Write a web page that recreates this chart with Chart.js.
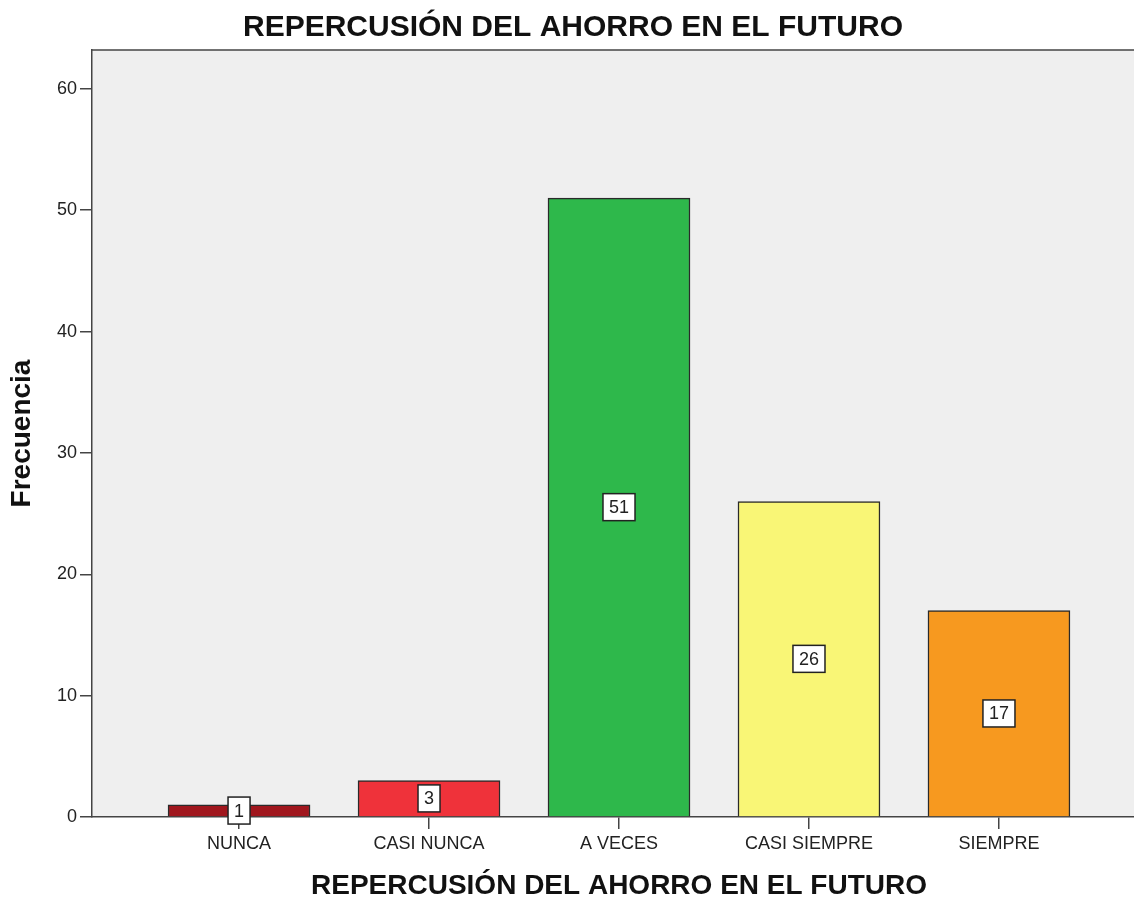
<!DOCTYPE html>
<html>
<head>
<meta charset="utf-8">
<script src="https://cdn.jsdelivr.net/npm/chart.js@4.4.6/dist/chart.umd.min.js"></script>
<style>
  html, body { margin: 0; padding: 0; background: #fff; overflow: hidden; }
  #wrap { position: absolute; left: 0; top: 0; width: 1148px; height: 900px; }
</style>
</head>
<body>
<div id="wrap"><canvas id="chart"></canvas></div>
<script>
// Frequency chart (SPSS-style bar chart) rebuilt with Chart.js.
const CATEGORIES = ['NUNCA', 'CASI NUNCA', 'A VECES', 'CASI SIEMPRE', 'SIEMPRE'];
const FREQUENCIES = [1, 3, 51, 26, 17];
const BAR_COLORS = ['#a0161d', '#ef323a', '#2eb84b', '#f9f676', '#f7991f'];
const Y_TICKS = [0, 10, 20, 30, 40, 50, 60];
const TITLE = 'REPERCUSIÓN DEL AHORRO EN EL FUTURO';
const X_TITLE = 'REPERCUSIÓN DEL AHORRO EN EL FUTURO';
const Y_TITLE = 'Frecuencia';

const FONT = 'Arial, "Liberation Sans", sans-serif';

// grey plot background + top frame line
const plotBg = {
  id: 'plotBg',
  beforeDraw(chart){
    const {ctx, chartArea: a} = chart;
    ctx.save();
    ctx.fillStyle = '#efefef';
    ctx.fillRect(a.left, a.top, a.right - a.left, a.bottom - a.top);
    ctx.strokeStyle = '#444';
    ctx.lineWidth = 1.5;
    ctx.beginPath();
    ctx.moveTo(a.left, a.top);
    ctx.lineTo(a.right, a.top);
    ctx.stroke();
    ctx.restore();
  }
};

// boxed value labels in the middle of each bar
const valueBoxes = {
  id: 'valueBoxes',
  afterDatasetsDraw(chart){
    const {ctx} = chart;
    const meta = chart.getDatasetMeta(0);
    ctx.save();
    ctx.font = '18px ' + FONT;
    ctx.textAlign = 'center';
    ctx.textBaseline = 'middle';
    meta.data.forEach((bar, i) => {
      const txt = String(FREQUENCIES[i]);
      const w = ctx.measureText(txt).width + 12;
      const h = 27;
      const cx = bar.x;
      const cy = (bar.y + bar.base) / 2;
      ctx.fillStyle = '#fff';
      ctx.fillRect(cx - w/2, cy - h/2, w, h);
      ctx.strokeStyle = '#222';
      ctx.lineWidth = 1.5;
      ctx.strokeRect(cx - w/2, cy - h/2, w, h);
      ctx.fillStyle = '#222';
      ctx.fillText(txt, cx, cy + 1);
    });
    ctx.restore();
  }
};

new Chart(document.getElementById('chart'), {
  type: 'bar',
  data: {
    datasets: [{
      data: FREQUENCIES.map((v, i) => ({x: i, y: v})),
      backgroundColor: BAR_COLORS,
      borderColor: '#2a2a2a',
      borderWidth: 1.5,
      barThickness: 142,
    }]
  },
  options: {
    responsive: true,
    maintainAspectRatio: false,
    animation: false,
    layout: { padding: { left: 0, right: 2, top: 0, bottom: 0 } },
    plugins: {
      legend: { display: false },
      tooltip: { enabled: false },
      title: {
        display: true,
        text: TITLE,
        color: '#111',
        font: { family: FONT, size: 30, weight: 'bold', lineHeight: 1 },
        padding: { top: 13, bottom: 7 }
      }
    },
    scales: {
      x: {
        type: 'linear',
        min: -0.774,
        max: 4.774,
        offset: false,
        afterFit(s){ s.height = 83; },
        grid: { display: true, offset: false, drawOnChartArea: false, drawTicks: true, tickLength: 12, color: '#444', lineWidth: 1.5 },
        border: { display: true, color: '#444', width: 1.5 },
        ticks: {
          stepSize: 1,
          includeBounds: false,
          autoSkip: false,
          maxRotation: 0,
          padding: 4,
          color: '#222',
          font: { family: FONT, size: 18 },
          callback: (v) => CATEGORIES[v] ?? ''
        },
        title: {
          display: true,
          text: X_TITLE,
          color: '#111',
          font: { family: FONT, size: 28, weight: 'bold', lineHeight: 1 },
          padding: { top: 0, bottom: 0 }
        }
      },
      y: {
        min: 0,
        max: 63.2,
        afterFit(s){ s.width = 92; },
        afterBuildTicks(s){ s.ticks = Y_TICKS.map(v => ({value: v})); },
        grid: { display: true, drawOnChartArea: false, drawTicks: true, tickLength: 12, color: '#444', lineWidth: 1.5 },
        border: { display: true, color: '#444', width: 1.5 },
        ticks: {
          padding: 3,
          color: '#222',
          font: { family: FONT, size: 18 }
        },
        title: {
          display: true,
          text: Y_TITLE,
          color: '#111',
          font: { family: FONT, size: 28, weight: 'bold', lineHeight: 1 },
          padding: { top: 8, bottom: 0 }
        }
      }
    }
  },
  plugins: [plotBg, valueBoxes]
});
</script>
</body>
</html>
